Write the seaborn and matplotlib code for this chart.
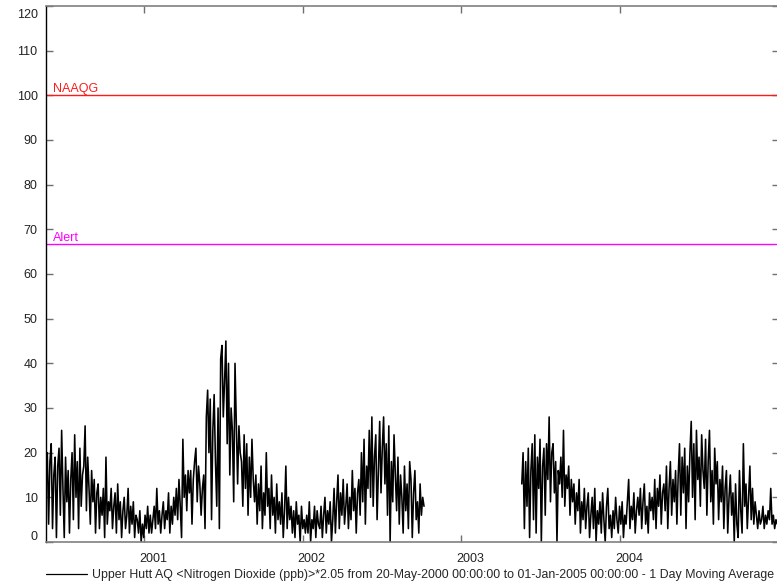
import numpy as np
import pandas as pd
import matplotlib
matplotlib.use("Agg")
import matplotlib.pyplot as plt
import matplotlib.dates as mdates
from matplotlib.transforms import ScaledTranslation
import seaborn as sns

# ---------------- data (values every 3 days) ----------------
seg1_start = "2000-05-20"
seg1_values = [
    13, 20, 4, 18, 22, 3, 15, 19, 1, 17,
    21, 6, 25, 12, 1, 19, 9, 16, 2, 14,
    20, 5, 24, 10, 18, 3, 21, 8, 15, 17,
    26, 7, 19, 12, 4, 16, 9, 14, 2, 11,
    13, 3, 10, 6, 12, 1, 19, 4, 9, 7,
    12, 3, 8, 11, 2, 13, 5, 9, 1, 7,
    10, 3, 6, 12, 2, 8, 4, 9, 1, 6,
    5, 2, 7, 0, 4, 1, 6, 3, 8, 2,
    6, 2, 5, 8, 3, 12, 4, 7, 2, 6,
    9, 3, 7, 5, 11, 2, 8, 4, 10, 6,
    12, 5, 14, 8, 1, 23, 10, 15, 7, 16,
    11, 16, 4, 14, 18, 21, 9, 17, 13, 6,
    12, 15, 3, 28, 34, 20, 32, 5, 25, 33,
    18, 8, 30, 3, 41, 44, 28, 36, 45, 22,
    40, 15, 30, 25, 9, 40, 27, 13, 26, 20,
    18, 8, 24, 12, 22, 6, 19, 10, 23, 14,
    9, 15, 4, 13, 7, 17, 3, 11, 6, 20,
    8, 12, 3, 15, 6, 10, 2, 13, 5, 9,
    4, 11, 1, 7, 17, 3, 10, 5, 8, 2,
    7, 1, 9, 4, 6, 0, 8, 3, 5, 2,
    6, 2, 9, 0, 5, 3, 8, 1, 7, 4,
    3, 8, 1, 6, 10, 2, 7, 4, 9, 0,
    5, 12, 2, 9, 15, 3, 11, 6, 14, 4,
    8, 13, 3, 10, 5, 16, 7, 12, 2, 11,
    14, 6, 20, 9, 23, 4, 17, 12, 25, 10,
    28, 8, 19, 24, 5, 16, 27, 11, 21, 28,
    13, 22, 6, 26, 0, 18, 9, 24, 15, 7,
    19, 4, 15, 10, 2, 17, 7, 13, 3, 18,
    14, 1, 11, 16, 5, 9, 2, 13, 6, 10,
    8,
]

seg2_start = "2003-05-20"
seg2_values = [
    13, 20, 3, 18, 8, 21, 1, 16, 22, 5,
    24, 2, 19, 12, 23, 0, 17, 21, 6, 22,
    14, 28, 9, 20, 22, 11, 18, 0, 16, 13,
    19, 10, 25, 8, 15, 12, 17, 6, 14, 9,
    13, 4, 11, 7, 14, 2, 9, 5, 12, 3,
    8, 11, 1, 6, 10, 3, 12, 0, 7, 4,
    9, 2, 11, 5, 0, 8, 12, 3, 6, 1,
    7, 3, 10, 5, 2, 8, 4, 9, 1, 6,
    4, 9, 14, 3, 8, 5, 11, 2, 7, 10,
    6, 12, 3, 9, 13, 4, 8, 2, 11, 7,
    10, 5, 14, 3, 12, 8, 15, 4, 11, 13,
    7, 17, 3, 12, 18, 6, 14, 9, 16, 4,
    15, 22, 6, 19, 11, 21, 3, 17, 9, 20,
    27, 10, 22, 5, 25, 14, 19, 8, 24, 16,
    12, 23, 6, 18, 25, 9, 16, 4, 21, 13,
    18, 5, 14, 9, 17, 3, 12, 16, 2, 10,
    15, 6, 11, 0, 13, 4, 1, 16, 7, 2,
    22, 8, 13, 3, 10, 17, 5, 12, 4, 9,
    6, 3, 7, 4, 5, 8, 3, 6, 4, 7,
    5, 12, 4, 6, 3, 5, 4,
]

naaqg_level = 100
alert_level = 66.7
guide_labels = ["NAAQG", "Alert"]
y_ticks = list(range(0, 121, 10))
x_tick_years = [2001, 2002, 2003, 2004]
x_range = ("2000-05-20", "2005-01-01")
legend_label = ("Upper Hutt AQ <Nitrogen Dioxide (ppb)>*2.05 from 20-May-2000 00:00:00 "
                "to 01-Jan-2005 00:00:00 - 1 Day Moving Average")

# ---------------- build frames ----------------
df1 = pd.DataFrame({"date": pd.date_range(seg1_start, periods=len(seg1_values), freq="3D"),
                    "value": seg1_values})
df2 = pd.DataFrame({"date": pd.date_range(seg2_start, periods=len(seg2_values), freq="3D"),
                    "value": seg2_values})

# ---------------- figure ----------------
sns.set_style("white")
plt.rcParams["font.family"] = ["Liberation Sans", "DejaVu Sans"]
plt.rcParams["font.size"] = 9

W, H = 777, 582
fig = plt.figure(figsize=(W / 100, H / 100), dpi=100)
ax = fig.add_axes([46 / W, 1 - 542 / H, (779 - 46) / W, (542 - 6) / H])

sns.lineplot(data=df1, x="date", y="value", ax=ax, color="black", linewidth=1.15,
             label=legend_label)
sns.lineplot(data=df2, x="date", y="value", ax=ax, color="black", linewidth=1.15)

ax.axhline(naaqg_level, color="#ff1a1a", linewidth=1.0)
ax.axhline(alert_level, color="#ff00ff", linewidth=1.0)

x0, x1 = pd.Timestamp(x_range[0]), pd.Timestamp(x_range[1])
ax.set_xlim(x0, x1)
ax.set_ylim(0, 120)

off = ScaledTranslation(7 / 100, 0, fig.dpi_scale_trans)
ax.text(0, naaqg_level, guide_labels[0], color="#ff1a1a", fontsize=9,
        transform=ax.get_yaxis_transform() + off, va="bottom", ha="left")
ax.text(0, alert_level, guide_labels[1], color="#ff00ff", fontsize=9,
        transform=ax.get_yaxis_transform() + off, va="bottom", ha="left")

ax.set_yticks(y_ticks)
ax.set_yticklabels([str(v) for v in y_ticks])
ax.set_xticks([pd.Timestamp(f"{y}-01-01") for y in x_tick_years])
ax.set_xticklabels([str(y) for y in x_tick_years])
ax.set_xlabel("")
ax.set_ylabel("")

ax.tick_params(axis="both", direction="in", length=5, width=1, color="#707070",
               labelsize=9, labelcolor="#222222")
ax.tick_params(axis="y", left=True, right=True, pad=6)
ax.tick_params(axis="x", bottom=True, top=True, pad=8)

for s in ["top", "bottom", "right"]:
    ax.spines[s].set_color("#808080")
    ax.spines[s].set_linewidth(1.2)
ax.spines["left"].set_color("black")
ax.spines["left"].set_linewidth(1.0)

# shift labels as in the reference
for lab in ax.get_xticklabels():
    lab.set_transform(lab.get_transform() + ScaledTranslation(9 / 100, 0, fig.dpi_scale_trans))
ylabs = ax.get_yticklabels()
ylabs[0].set_transform(ylabs[0].get_transform() + ScaledTranslation(0, 7 / 100, fig.dpi_scale_trans))
ylabs[-1].set_transform(ylabs[-1].get_transform() + ScaledTranslation(0, -8 / 100, fig.dpi_scale_trans))

leg = ax.legend(loc="center left", bbox_to_anchor=(46 / W, 1 - 575 / H),
                bbox_transform=fig.transFigure, frameon=False, fontsize=8.9,
                handlelength=3.3, handletextpad=0.45, borderpad=0, borderaxespad=0)
for l in leg.get_lines():
    l.set_linewidth(0.9)

fig.savefig("out.png", dpi=100)
